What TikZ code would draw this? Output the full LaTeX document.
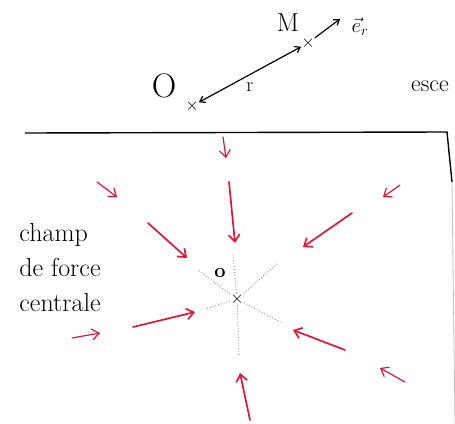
\documentclass[tikz,border=0pt]{standalone}
\usepackage{amsmath}
\usepackage{amssymb}
\usepackage{xcolor}
\usepackage{tikz}
\usetikzlibrary{positioning, arrows.meta}

\definecolor{fieldred}{RGB}{224,22,58}

\begin{document}
\begin{tikzpicture}[
  x=1pt, y=-1pt,
  crossmark/.style={inner sep=0pt, font=\LARGE},
  hand/.style={inner sep=0pt, font=\fontsize{26}{35}\selectfont, align=left},
  field/.style={-{Straight Barb[length=7pt, width=11pt]}, draw=fieldred,
                line width=1.7pt, line cap=round},
  weak/.style={field, line width=1.2pt},
  ray/.style={draw=black!45, line width=0.9pt, dotted},
  vec/.style={line width=1.2pt, line cap=round},
  frame/.style={draw=black, line width=1.4pt},
]
\useasboundingbox (0,0) rectangle (455,423);

% repere en haut
\node[crossmark] (o) at (192,106) {$\times$};
\node[inner sep=0pt, font=\fontsize{34}{34}\selectfont] (olab) at (164,86) {O};
\node[crossmark] (m) at (308,43) {$\times$};
\node[inner sep=0pt, font=\fontsize{26}{26}\selectfont] (mlab) at (288,23) {M};
\coordinate (er) at (340,19);
\node[inner sep=0pt, font=\fontsize{20}{20}\selectfont] (erlab) at (360,27) {$\vec{e}_r$};
\node[inner sep=0pt, font=\fontsize{24}{24}\selectfont] (esp) at (430,86) {esce};
\draw[vec, {Straight Barb[length=5pt, width=7pt]}-{Straight Barb[length=5pt, width=7pt]}]
  (o) -- node[below=8pt, font=\fontsize{20}{20}\selectfont, inner sep=0pt] (rlab) {r} (m);
\draw[vec, -{Straight Barb[length=5pt, width=7pt]}] (m) -- (er);

% cadre
\draw[frame] (25,133) -- (447,132) -- (452,182);
\draw[draw=black!25, line width=0.8pt] (452,182) -- (455,423);

\node[hand] (txt) at (60,268) {champ\\de force\\centrale};

% centre
\node[crossmark] (c) at (237,299) {$\times$};
\node[inner sep=0pt, font=\fontsize{20}{20}\selectfont\bfseries] (ctr) at (220,273) {o};
\foreach \p in {(198,270), (233,255), (278,263), (205,309), (282,323), (239,357)}
  \draw[ray] (c) -- \p;

% lignes de champ
\foreach \a/\b/\cc/\d in {229/182/235/243, 148/223/187/258, 352/213/303/247,
                          133/327/195/312, 345/350/293/330, 250/420/240/373}
  \draw[field] (\a,\b) -- (\cc,\d);
\foreach \a/\b/\cc/\d in {223/137/226/158, 97/182/117/197, 400/185/383/197,
                          72/338/100/333, 405/382/380/368}
  \draw[weak] (\a,\b) -- (\cc,\d);
\end{tikzpicture}
\end{document}
